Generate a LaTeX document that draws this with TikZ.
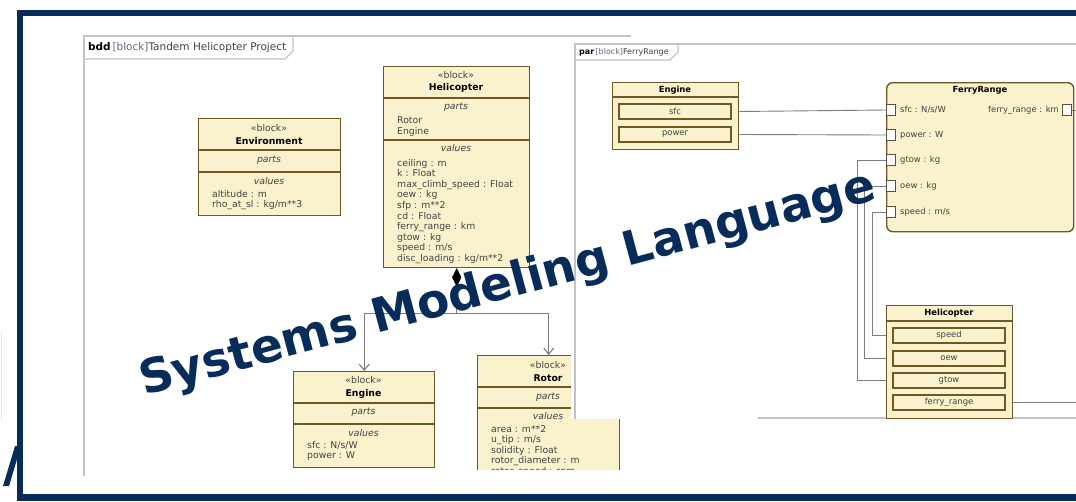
\documentclass[tikz,border=0pt]{standalone}
\usepackage{fontspec}
\setmainfont{DejaVu Sans}
\usetikzlibrary{arrows.meta}

\definecolor{navy}{RGB}{8,44,90}
\definecolor{blockfill}{RGB}{250,242,204}
\definecolor{blockline}{RGB}{112,88,36}
\definecolor{wiregray}{RGB}{125,125,125}
\definecolor{portgray}{RGB}{90,80,60}
\definecolor{panegray}{RGB}{195,195,195}
\definecolor{textgray}{RGB}{65,65,65}
\definecolor{tagpurple}{RGB}{115,95,125}

\newcommand\bddsize{\fontsize{9.3}{10.6}\selectfont}
\newcommand\parsize{\fontsize{8.4}{9.5}\selectfont}
\newcommand\tabsize{\fontsize{10.5}{12}\selectfont}

\begin{document}
\begin{tikzpicture}[x=1pt, y=-1pt,
   block_style/.style={draw=blockline, fill=blockfill, line width=1.4pt, anchor=north west, inner sep=0pt},
   rule_style/.style={draw=blockline, line width=1.2pt},
   stereo_style/.style={font=\bddsize, text=textgray, inner sep=0pt},
   name_style/.style={font=\bddsize\bfseries, inner sep=0pt},
   comp_style/.style={font=\bddsize\itshape, text=textgray, inner sep=0pt},
   value_style/.style={font=\bddsize, text=textgray, anchor=base west, inner sep=0pt},
   row_style/.style={draw=blockline, fill=blockfill, line width=1.2pt, minimum width=112, minimum height=15, inner sep=0pt, font=\parsize, text=textgray},
   port_style/.style={draw=portgray, fill=white, line width=0.8pt, minimum width=9, minimum height=11, inner sep=0pt},
   label_style/.style={font=\parsize, text=textgray, inner sep=0pt},
   pane_line/.style={draw=panegray, line width=1.3pt},
   wire_style/.style={draw=wiregray, line width=0.9pt},
   comp_edge/.style={draw=wiregray, line width=1.1pt, arrows={Diamond[length=18pt,width=9pt,color=black,fill=black]-Straight Barb[length=6pt,width=10pt]}},
   watermark/.style={font=\fontsize{47}{47}\selectfont\bfseries, text=navy, rotate=15, anchor=base west, inner sep=0pt},
   frame_style/.style={draw=navy, line width=6.5pt}]
	  \useasboundingbox (0,0) rectangle (1076,501);
	  \clip (0,0) rectangle (1076,501);

	  % bdd pane
	  \draw[pane_line] (84,476) -- (84,36) -- (631,36);
	  \draw[pane_line] (84,59) -- (285,59) -- (293,51) -- (293,36);
	  \node[anchor=west, inner sep=0pt, font=\tabsize, text=textgray] (bdd_tab) at (88,47.5)
	    {\textcolor{black}{\bfseries bdd}\,\textcolor{tagpurple}{[block]}Tandem Helicopter Project};

	  % Environment
	  \node[block_style, minimum width=142, minimum height=97] (env) at (198,118) {};
	  \draw[rule_style] (env.west |- 0,150) -- (env.east |- 0,150);
	  \draw[rule_style] (env.west |- 0,172) -- (env.east |- 0,172);
	  \node[stereo_style] (env_st) at (269,128) {«block»};
	  \node[name_style] (env_name) at (269,141) {Environment};
	  \node[comp_style] (env_parts) at (269,160) {parts};
	  \node[comp_style] (env_values) at (269,181) {values};
	  \foreach \val [count=\i] in {altitude : m, rho\_at\_sl : kg/m**3}
	    \node[value_style] (env_v\i) at (212,{197+10.6*(\i-1)}) {\val};

	  % Helicopter
	  \node[block_style, minimum width=146, minimum height=201] (heli) at (383,66) {};
	  \draw[rule_style] (heli.west |- 0,98) -- (heli.east |- 0,98);
	  \draw[rule_style] (heli.west |- 0,140) -- (heli.east |- 0,140);
	  \node[stereo_style] (heli_st) at (456,75) {«block»};
	  \node[name_style] (heli_name) at (456,88) {Helicopter};
	  \node[comp_style] (heli_parts) at (456,107) {parts};
	  \node[value_style] (heli_p1) at (397,123) {Rotor};
	  \node[value_style] (heli_p2) at (397,134) {Engine};
	  \node[comp_style] (heli_values) at (456,148) {values};
	  \foreach \val [count=\i] in {ceiling : m, k : Float, max\_climb\_speed : Float, oew : kg, sfp : m**2,
	      cd : Float, ferry\_range : km, gtow : kg, speed : m/s, disc\_loading : kg/m**2}
	    \node[value_style] (heli_v\i) at (397,{166+10.6*(\i-1)}) {\val};

	  % Engine
	  \node[block_style, minimum width=141, minimum height=96] (beng) at (293,371) {};
	  \draw[rule_style] (beng.west |- 0,403) -- (beng.east |- 0,403);
	  \draw[rule_style] (beng.west |- 0,424) -- (beng.east |- 0,424);
	  \node[stereo_style] (beng_st) at (363.5,380) {«block»};
	  \node[name_style] (beng_name) at (363.5,394) {Engine};
	  \node[comp_style] (beng_parts) at (363.5,412) {parts};
	  \node[comp_style] (beng_values) at (363.5,433) {values};
	  \foreach \val [count=\i] in {sfc : N/s/W, power : W}
	    \node[value_style] (beng_v\i) at (307,{448+10.6*(\i-1)}) {\val};

	  % Rotor, cut off at the bottom
	  \begin{scope}
	    \clip (470,340) rectangle (630,469);
	    \node[block_style, minimum width=142, minimum height=140] (rotor) at (477,355) {};
	    \draw[rule_style] (rotor.west |- 0,387) -- (rotor.east |- 0,387);
	    \draw[rule_style] (rotor.west |- 0,408) -- (rotor.east |- 0,408);
	    \node[stereo_style] (rotor_st) at (548,365) {«block»};
	    \node[name_style] (rotor_name) at (548,378) {Rotor};
	    \node[comp_style] (rotor_parts) at (548,397) {parts};
	    \node[comp_style] (rotor_values) at (548,416) {values};
	    \foreach \val [count=\i] in {area : m**2, u\_tip : m/s, solidity : Float, rotor\_diameter : m, rotor\_speed : rpm}
	      \node[value_style] (rotor_v\i) at (491,{432+10.6*(\i-1)}) {\val};
	  \end{scope}

	  \draw[comp_edge] (heli.south) -- ++(0,45) -| (beng.north);
	  \draw[comp_edge] (heli.south) -- ++(0,45) -| (rotor.north);

	  % par pane
	  \fill[white] (571,40) rectangle (1080,419);
	  \draw[pane_line] (575,419) -- (575,44) -- (1080,44);
	  \draw[pane_line] (758,418) -- (1080,418);
	  \draw[pane_line] (575,60) -- (670,60) -- (678,52) -- (678,44);
	  \node[anchor=west, inner sep=0pt, font=\fontsize{8}{9.5}\selectfont, text=textgray] (par_tab) at (579,52)
	    {\textcolor{black}{\bfseries par}\,\textcolor{tagpurple}{[block]}FerryRange};

	  \node[block_style, minimum width=126, minimum height=67] (peng) at (612,82) {};
	  \draw[rule_style] (peng.west |- 0,97) -- (peng.east |- 0,97);
	  \node[name_style, font=\parsize\bfseries] (peng_name) at (675,90) {Engine};
	  \node[row_style] (peng_sfc) at (675,111.5) {sfc};
	  \node[row_style] (peng_power) at (675,134.5) {power};

	  \node[block_style, rounded corners=6pt, minimum width=187, minimum height=149] (ferry) at (886,82) {};
	  \node[name_style, font=\parsize\bfseries] (ferry_name) at (980,90) {FerryRange};
	  \foreach \p/\y/\lbl in {sfc/110/{sfc : N/s/W}, power/135/{power : W}, gtow/160/{gtow : kg},
	      oew/186/{oew : kg}, speed/212/{speed : m/s}} {
	    \node[port_style] (fr_\p) at (891,\y) {};
	    \node[label_style, anchor=west] (fr_\p_lbl) at (900,\y) {\lbl};
	  }
	  \node[port_style] (fr_ferry) at (1067,110) {};
	  \node[label_style, anchor=east] (fr_ferry_lbl) at (1059,110) {ferry\_range : km};

	  \node[block_style, minimum width=126, minimum height=113] (hp) at (886,305) {};
	  \draw[rule_style] (hp.west |- 0,321) -- (hp.east |- 0,321);
	  \node[name_style, font=\parsize\bfseries] (hp_name) at (949,313) {Helicopter};
	  \node[row_style] (hp_speed) at (949,335.5) {speed};
	  \node[row_style] (hp_oew) at (949,358.5) {oew};
	  \node[row_style] (hp_gtow) at (949,380.5) {gtow};
	  \node[row_style] (hp_ferry) at (949,402.5) {ferry\_range};

	  \coordinate (fr_out) at (1080,110);
	  \coordinate (hp_out) at (1080,402.5);
	  \draw[wire_style] (peng_sfc -| peng.east) -- (fr_sfc.west);
	  \draw[wire_style] (peng_power -| peng.east) -- (fr_power.west);
	  \draw[wire_style] (fr_gtow.west) -- ++(-29,0) |- (hp_gtow -| hp.west);
	  \draw[wire_style] (fr_oew.west) -- ++(-22,0) |- (hp_oew -| hp.west);
	  \draw[wire_style] (fr_speed.west) -- ++(-14,0) |- (hp_speed -| hp.west);
	  \draw[wire_style] (fr_ferry.east) -- (fr_out);
	  \draw[wire_style] (hp_ferry -| hp.east) -- (hp_out);

	  \node[watermark] (slogan) at (144,396) {Systems Modeling Language};

	  % outer frame
	  \draw[gray!20, line width=1pt] (1,332) -- (1,420);
	  \fill[navy] (3,486) -- (9,486) -- (21,446) -- (15,446) -- cycle;
	  \draw[frame_style] (20,13) rectangle (1090,497.5);

	\end{tikzpicture}
\end{document}
